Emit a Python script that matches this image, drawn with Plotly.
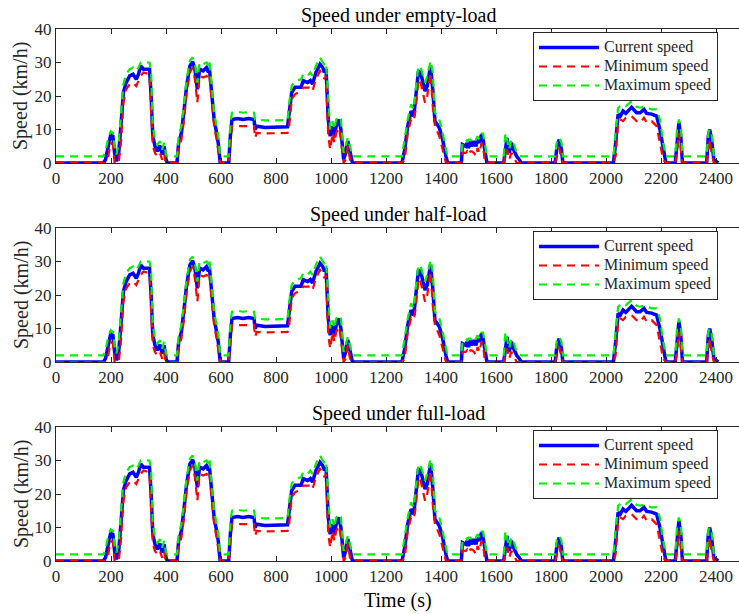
import plotly.graph_objects as go

# Drive-cycle time stamps (s)
t_s = [
    0, 172, 180, 190, 199, 207, 213, 220, 228, 236,
    245, 255, 268, 280, 292, 300, 308, 318, 340, 346,
    352, 360, 368, 378, 386, 393, 400, 405, 440, 446,
    456, 466, 475, 487, 497, 505, 514, 522, 535, 548,
    554, 558, 566, 575, 584, 590, 597, 628, 634, 640,
    660, 680, 700, 720, 724, 730, 760, 800, 842, 848,
    857, 869, 891, 899, 915, 925, 933, 945, 960, 970,
    976, 982, 990, 997, 1006, 1012, 1019, 1029, 1036, 1046,
    1053, 1061, 1069, 1078, 1258, 1268, 1279, 1291, 1301, 1308,
    1318, 1326, 1342, 1350, 1362, 1370, 1378, 1394, 1406, 1418,
    1424, 1474, 1478, 1490, 1495, 1500, 1507, 1512, 1520, 1527,
    1533, 1540, 1547, 1553, 1560, 1567, 1628, 1634, 1640, 1648,
    1656, 1664, 1675, 1685, 1692, 1815, 1822, 1830, 1838, 1843,
    2027, 2035, 2044, 2052, 2062, 2072, 2093, 2111, 2124, 2138,
    2148, 2166, 2184, 2196, 2208, 2218, 2252, 2258, 2265, 2272,
    2278, 2366, 2372, 2377, 2384, 2392, 2408,
]

# Current speed (km/h)
v_current = [
    0, 0, 1, 5, 8.4, 8, 3, 0.5, 3, 11,
    21, 24, 26, 26.5, 25, 26.5, 29, 28, 28, 20,
    8, 5, 3.5, 5.2, 2.5, 5, 1, 0, 0, 6,
    9, 16, 23, 29, 30.2, 28, 22, 28, 27.5, 28.5,
    27, 28, 21, 13, 9, 6, 0, 0, 8, 13,
    13.3, 13, 13.3, 13, 10, 11, 10.6, 10.8, 10.8, 15,
    21, 22.6, 22.6, 24.6, 24, 24.6, 23.6, 27, 29.5, 28.5,
    27, 28, 13, 8, 11, 8, 11, 13, 10, 1,
    3, 6.6, 3, 0, 0, 4, 11, 15.5, 14, 20,
    27.5, 27, 21.5, 23, 29, 22, 12.5, 10.5, 7, 2,
    0, 0, 5.5, 5, 6, 4.5, 6.5, 5, 6.5, 5,
    7, 6, 8.5, 7, 3, 0, 0, 5, 7.5, 3,
    6, 4, 2, 1, 0, 0, 5, 7, 4, 0,
    0, 6, 14.5, 14, 15.5, 14.8, 16.6, 15, 15, 16,
    14.8, 14.6, 14, 10, 4, 0, 0, 7, 12, 8,
    0, 0, 8, 10, 7, 1, 0,
]

# Minimum speed (km/h)
v_minimum = [
    0, 0, 0, 2, 6, 5.5, 0, 0, 0, 6,
    18, 22, 23.5, 24, 23, 24.5, 26, 27, 26.5, 15,
    5, 3, 2, 3, 1, 3, 0, 0, 0, 4,
    7, 13, 21, 27, 28.5, 25, 18, 26, 25.5, 26,
    25, 26, 18, 11, 7, 4, 0, 0, 5, 11,
    11, 11, 11.2, 11, 7.5, 9, 8.8, 9, 9, 11,
    19, 20.5, 21.5, 22.5, 22.5, 22.5, 21.5, 25, 27.5, 26.5,
    25, 26, 8, 4, 9, 6, 9, 10.5, 7, 0,
    1, 5, 1, 0, 0, 1, 9, 13, 12.5, 16,
    25, 24, 18, 20, 27, 17, 11, 8, 4, 0,
    0, 0, 3, 3, 3.5, 2.5, 3.5, 3.5, 3, 2,
    4.5, 3, 6, 5, 0, 0, 0, 2, 4, 1,
    3, 2, 0, 0, 0, 0, 2, 4.5, 1, 0,
    0, 2, 12, 13, 12.5, 13.5, 14, 12.5, 12, 13.5,
    12, 12.5, 11, 6, 1, 0, 0, 3, 9, 4,
    0, 0, 5, 7, 3, 0, 0,
]

# Maximum speed (km/h)
v_maximum = [
    2, 2, 3.5, 7.5, 9.5, 9, 5, 2.5, 6, 15,
    23.5, 26.5, 28, 28.5, 27.5, 28.5, 30, 30, 30, 27,
    11, 7, 5.5, 6.5, 4, 6, 2.5, 2, 2, 8,
    11, 18, 25, 30.5, 31.5, 29.5, 24, 30, 29.5, 30,
    29, 30.5, 24, 15, 11, 8, 2, 2, 12, 15,
    15.3, 15, 15.2, 15, 13, 13, 12.7, 12.8, 12.8, 18,
    23, 24.5, 25, 26.5, 26, 27, 26, 29, 31.5, 30,
    29.5, 30, 18, 10, 12.5, 10, 13, 14, 13, 3,
    5, 7.5, 5, 2, 2, 7, 13, 17.5, 16, 22,
    29, 28.5, 24, 26, 30.5, 27, 15, 13, 9, 4,
    2, 2, 6, 7, 6.5, 7, 7, 6.5, 7.5, 7,
    8, 7, 8.8, 8.8, 5, 2, 2, 9, 7, 4,
    7, 6, 3, 2.5, 2, 2, 7, 7.5, 6, 2,
    2, 9, 16.5, 17, 17.5, 17, 18.4, 16.8, 16.5, 16.8,
    16.5, 16, 16, 13, 6, 2, 2, 10, 13, 11,
    2, 2, 9, 10, 9, 2, 2,
]

panel_titles = ["Speed under empty-load", "Speed under half-load", "Speed under full-load"]
series_names = ["Current speed", "Minimum speed", "Maximum speed"]
x_ticks = list(range(0, 2401, 200))
y_ticks = [0, 10, 20, 30, 40]

W, H = 739, 614
FONT = "Liberation Serif"
INK = "#262626"

# pixel geometry of the three axes boxes (top, bottom)
boxes = [(29, 163), (228, 362), (427, 561)]
x_left = 56
px_per_s = 0.275
x_max = (W - x_left) / px_per_s


def legend_label(name):
    # larger glyphs than the legend's row-spacing font
    return f'<span style="font-size:16px">{name}</span>'


fig = go.Figure()
layout = dict(
    width=W, height=H,
    margin=dict(l=0, r=0, t=0, b=0, autoexpand=False),
    paper_bgcolor="white", plot_bgcolor="white",
    font=dict(family=FONT, color=INK),
    annotations=[],
)

for i, (title, (top, bot)) in enumerate(zip(panel_titles, boxes)):
    n = i + 1
    xa = "x" if n == 1 else f"x{n}"
    ya = "y" if n == 1 else f"y{n}"
    leg = "legend" if n == 1 else f"legend{n}"

    fig.add_trace(go.Scatter(x=t_s, y=v_current, mode="lines", name=legend_label(series_names[0]),
                             line=dict(color="#0000ff", width=3.5),
                             xaxis=xa, yaxis=ya, legend=leg))
    fig.add_trace(go.Scatter(x=t_s, y=v_minimum, mode="lines", name=legend_label(series_names[1]),
                             line=dict(color="#ff0000", width=2.2, dash="8px,6px"),
                             xaxis=xa, yaxis=ya, legend=leg))
    fig.add_trace(go.Scatter(x=t_s, y=v_maximum, mode="lines", name=legend_label(series_names[2]),
                             line=dict(color="#00ee00", width=2.2, dash="8px,6px"),
                             xaxis=xa, yaxis=ya, legend=leg))

    y0 = (H - bot) / H
    y1 = (H - top) / H
    layout["xaxis" if n == 1 else f"xaxis{n}"] = dict(
        domain=[x_left / W, 1], range=[0, x_max], anchor=ya, automargin=False,
        tickvals=x_ticks, ticks="inside", ticklen=5, tickcolor=INK,
        showline=True, linecolor=INK, linewidth=1, mirror="ticks",
        showgrid=False, zeroline=False,
        tickfont=dict(family=FONT, size=17, color=INK),
    )
    layout["yaxis" if n == 1 else f"yaxis{n}"] = dict(
        domain=[y0, y1], range=[0, 40], anchor=xa, automargin=False,
        tickvals=y_ticks, ticks="inside", ticklen=5, tickcolor=INK,
        showline=True, linecolor=INK, linewidth=1, mirror=False,
        showgrid=False, zeroline=False,
        tickfont=dict(family=FONT, size=17, color=INK),
    )
    # right-hand tick marks of the box
    layout[f"yaxis{n + 3}"] = dict(
        overlaying=ya, side="right", anchor=xa, range=[0, 40], automargin=False,
        tickvals=y_ticks, ticks="inside", ticklen=5, tickcolor=INK,
        showticklabels=False, showline=False, showgrid=False, zeroline=False,
    )
    layout[leg] = dict(
        x=533 / W, y=(H - (top + 3)) / H, xanchor="left", yanchor="top",
        bgcolor="white", bordercolor=INK, borderwidth=1,
        font=dict(family=FONT, size=12, color=INK),
        itemwidth=60, tracegroupgap=0,
    )
    layout["annotations"].append(dict(
        text=title, x=398.5 / W, y=(H - (top - 14)) / H, xref="paper", yref="paper",
        xanchor="center", yanchor="middle", showarrow=False,
        font=dict(family=FONT, size=20, color="#000000"),
    ))
    layout["annotations"].append(dict(
        text="Speed (km/h)", x=21 / W, y=(H - (top + bot) / 2) / H, xref="paper", yref="paper",
        xanchor="center", yanchor="middle", textangle=-90, showarrow=False,
        font=dict(family=FONT, size=20, color=INK),
    ))

layout["annotations"].append(dict(
    text="Time (s)", x=398 / W, y=(H - 600) / H, xref="paper", yref="paper",
    xanchor="center", yanchor="middle", showarrow=False,
    font=dict(family=FONT, size=20, color="#000000"),
))

fig.update_layout(**layout)
fig.write_html("out.html")
